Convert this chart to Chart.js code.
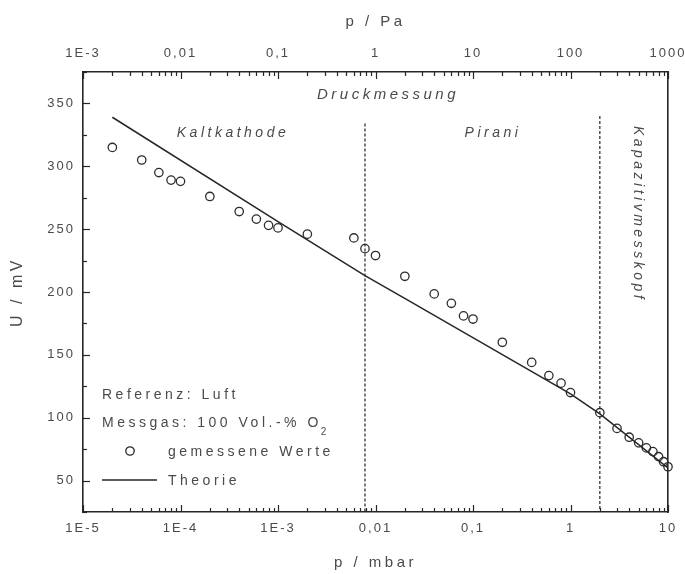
<!DOCTYPE html>
<html>
<head>
<meta charset="utf-8">
<script src="https://cdn.jsdelivr.net/npm/chart.js@4/dist/chart.umd.min.js"></script>
<style>
  body { margin: 0; background: #fff; }
</style>
</head>
<body>
<canvas id="druckChart" width="685" height="574"></canvas>
<script>
// Messwerte: p in mbar, U in mV
const messDruck = [2e-5, 4e-5, 6e-5, 8e-5, 1e-4, 2e-4, 4e-4, 6e-4, 8e-4, 1e-3, 2e-3, 6e-3, 7.8e-3, 1e-2,
  2e-2, 4e-2, 6e-2, 8e-2, 0.1, 0.2, 0.4, 0.6, 0.8, 1, 2, 3, 4, 5, 6, 7, 8, 9, 10];
const messSpannung = [315, 305, 295, 289, 288, 276, 264, 258, 253, 251, 246, 243, 234.5, 229,
  212.5, 198.5, 191, 181, 178.5, 160, 144, 133.5, 127.5, 120, 104, 91.5, 84.5, 80, 76, 73, 69, 65, 61];

// Theoriekurve
const theorieDruck = [2e-5, 1e-3, 0.0078, 0.021, 1, 2, 10];
const theorieSpannung = [339, 256, 213, 194, 119, 103, 60];

// Grenzen der Messbereiche (gepunktete Linien)
const grenzDruck = [0.0078, 2];
const grenzOben = [334, 340];

const mbarTicks = [1e-5, 1e-4, 1e-3, 0.01, 0.1, 1, 10];
const mbarLabels = ['1E-5', '1E-4', '1E-3', '0,01', '0,1', '1', '10'];
const paTicks = [1e-3, 0.01, 0.1, 1, 10, 100, 1000];
const paLabels = ['1E-3', '0,01', '0,1', '1', '10', '100', '1000'];
const uTicks = [50, 100, 150, 200, 250, 300, 350];
const uMinorTicks = [25, 75, 125, 175, 225, 275, 325, 375];

const zwischen = [2, 3, 4, 5, 6, 7, 8, 9];
const mbarMinor = mbarTicks.slice(0, -1).flatMap(d => zwischen.map(k => k * d));
const paMinor = paTicks.slice(0, -1).flatMap(d => zwischen.map(k => k * d));

const dunkel = '#262626';
const textGrau = '#4a4a4a';
Chart.defaults.font.family = '"Liberation Sans", Arial, sans-serif';

function setTicks(werte) {
  return function(scale) { scale.ticks = werte.map(v => ({ value: v })); };
}

function festeGroesse(breite, hoehe) {
  return function(s) {
    if (breite !== null) s.width = breite;
    if (hoehe !== null) s.height = hoehe;
    s.paddingLeft = s.paddingRight = s.paddingTop = s.paddingBottom = 0;
  };
}

// Buchstabenabstand wie im Original
const abstand = {
  id: 'abstand',
  beforeDraw(chart) { chart.ctx.letterSpacing = '3.5px'; },
  afterDatasetsDraw(chart) { chart.ctx.letterSpacing = '2px'; }
};

// Teilstriche nach innen
const teilstriche = {
  id: 'teilstriche',
  beforeDatasetsDraw(chart) {
    const { ctx, scales } = chart;
    const a = chart.chartArea;
    ctx.save();
    ctx.strokeStyle = dunkel;
    ctx.lineWidth = 1.2;
    const strich = (scale, werte, len) => {
      werte.forEach(v => {
        const p = Math.round(scale.getPixelForValue(v)) + 0.5;
        ctx.beginPath();
        if (scale.isHorizontal()) {
          const y0 = scale.position === 'top' ? a.top : a.bottom;
          const dir = scale.position === 'top' ? 1 : -1;
          ctx.moveTo(p, y0);
          ctx.lineTo(p, y0 + dir * len);
        } else {
          ctx.moveTo(a.left, p);
          ctx.lineTo(a.left + len, p);
        }
        ctx.stroke();
      });
    };
    strich(scales.x, mbarTicks, 7);
    strich(scales.x, mbarMinor, 4);
    strich(scales.x2, paTicks, 7);
    strich(scales.x2, paMinor, 4);
    strich(scales.y, uTicks, 7);
    strich(scales.y, uMinorTicks, 4);
    ctx.restore();
  }
};

const beschriftung = {
  id: 'beschriftung',
  afterDraw(chart) {
    const ctx = chart.ctx;
    ctx.save();
    ctx.fillStyle = textGrau;
    ctx.strokeStyle = dunkel;
    ctx.textBaseline = 'middle';
    ctx.letterSpacing = '3.5px';

    ctx.textAlign = 'center';
    ctx.font = 'italic 15px "Liberation Sans", Arial, sans-serif';
    ctx.fillText('Druckmessung', 388, 95);
    ctx.font = 'italic 14px "Liberation Sans", Arial, sans-serif';
    ctx.fillText('Kaltkathode', 233, 133);
    ctx.fillText('Pirani', 493, 133);
    ctx.save();
    ctx.translate(638, 214);
    ctx.rotate(Math.PI / 2);
    ctx.fillText('Kapazitivmesskopf', 0, 0);
    ctx.restore();

    ctx.textAlign = 'left';
    ctx.font = '14px "Liberation Sans", Arial, sans-serif';
    ctx.fillText('Referenz: Luft', 102, 395);
    ctx.fillText('Messgas: 100 Vol.-% O', 102, 423);
    const w = ctx.measureText('Messgas: 100 Vol.-% O').width;
    ctx.font = '10px "Liberation Sans", Arial, sans-serif';
    ctx.fillText('2', 102 + w - 1, 432);
    ctx.font = '14px "Liberation Sans", Arial, sans-serif';
    ctx.fillText('gemessene Werte', 168, 452);
    ctx.fillText('Theorie', 168, 481);

    ctx.lineWidth = 1.3;
    ctx.beginPath();
    ctx.arc(130, 451, 4.2, 0, Math.PI * 2);
    ctx.stroke();
    ctx.lineWidth = 1.5;
    ctx.beginPath();
    ctx.moveTo(102, 480);
    ctx.lineTo(157, 480);
    ctx.stroke();
    ctx.restore();
  }
};

const datasets = [
  {
    type: 'line',
    label: 'Theorie',
    data: theorieDruck.map((p, i) => ({ x: p, y: theorieSpannung[i] })),
    borderColor: dunkel,
    borderWidth: 1.5,
    pointRadius: 0,
    tension: 0,
    xAxisID: 'x', yAxisID: 'y'
  },
  {
    type: 'scatter',
    label: 'gemessene Werte',
    data: messDruck.map((p, i) => ({ x: p, y: messSpannung[i] })),
    pointStyle: 'circle',
    pointRadius: 4.2,
    borderColor: '#2c2c2c',
    borderWidth: 1.3,
    backgroundColor: 'rgba(0,0,0,0)',
    clip: false,
    xAxisID: 'x', yAxisID: 'y'
  }
].concat(grenzDruck.map((p, i) => ({
  type: 'line',
  data: [{ x: p, y: grenzOben[i] }, { x: p, y: 25 }],
  borderColor: '#222',
  borderWidth: 1.2,
  borderDash: [3, 2],
  pointRadius: 0,
  xAxisID: 'x', yAxisID: 'y'
})));

const achsenRand = { color: dunkel, width: 1.6 };
const ohneGitter = { drawOnChartArea: false, drawTicks: false };

new Chart(document.getElementById('druckChart'), {
  type: 'scatter',
  data: { datasets: datasets },
  options: {
    responsive: false,
    animation: false,
    layout: { padding: { right: 17 } },
    plugins: { legend: { display: false }, tooltip: { enabled: false } },
    scales: {
      x: {
        type: 'logarithmic', position: 'bottom', min: 1e-5, max: 10,
        afterBuildTicks: setTicks(mbarTicks),
        afterFit: festeGroesse(null, 62),
        ticks: { autoSkip: false, maxRotation: 0, padding: 9, color: textGrau, font: { size: 13 }, z: 1,
          callback: (v, i) => mbarLabels[i] },
        grid: ohneGitter,
        border: achsenRand,
        title: { display: true, text: 'p / mbar', color: textGrau, font: { size: 15 }, padding: { top: 0, bottom: 2 } }
      },
      y: {
        type: 'linear', position: 'left', min: 25, max: 375,
        afterBuildTicks: setTicks(uTicks),
        afterFit: festeGroesse(83, null),
        ticks: { autoSkip: false, padding: 8, color: textGrau, font: { size: 13 }, z: 1,
          callback: (v, i) => String(uTicks[i]) },
        grid: ohneGitter,
        border: achsenRand,
        title: { display: true, text: 'U / mV', color: textGrau, font: { size: 16 }, padding: { top: 8, bottom: 0 } }
      },
      x2: {
        type: 'logarithmic', position: 'top', min: 1e-3, max: 1000,
        afterBuildTicks: setTicks(paTicks),
        afterFit: festeGroesse(null, 72),
        ticks: { autoSkip: false, maxRotation: 0, padding: 11, color: textGrau, font: { size: 13 }, z: 1,
          callback: (v, i) => paLabels[i] },
        grid: ohneGitter,
        border: achsenRand,
        title: { display: true, text: 'p / Pa', color: textGrau, font: { size: 15 }, padding: { top: 13, bottom: 0 } }
      },
      yr: {
        type: 'linear', position: 'right', min: 25, max: 375,
        afterFit: festeGroesse(0, null),
        ticks: { display: false },
        grid: ohneGitter,
        border: achsenRand
      }
    }
  },
  plugins: [abstand, teilstriche, beschriftung]
});
</script>
</body>
</html>
